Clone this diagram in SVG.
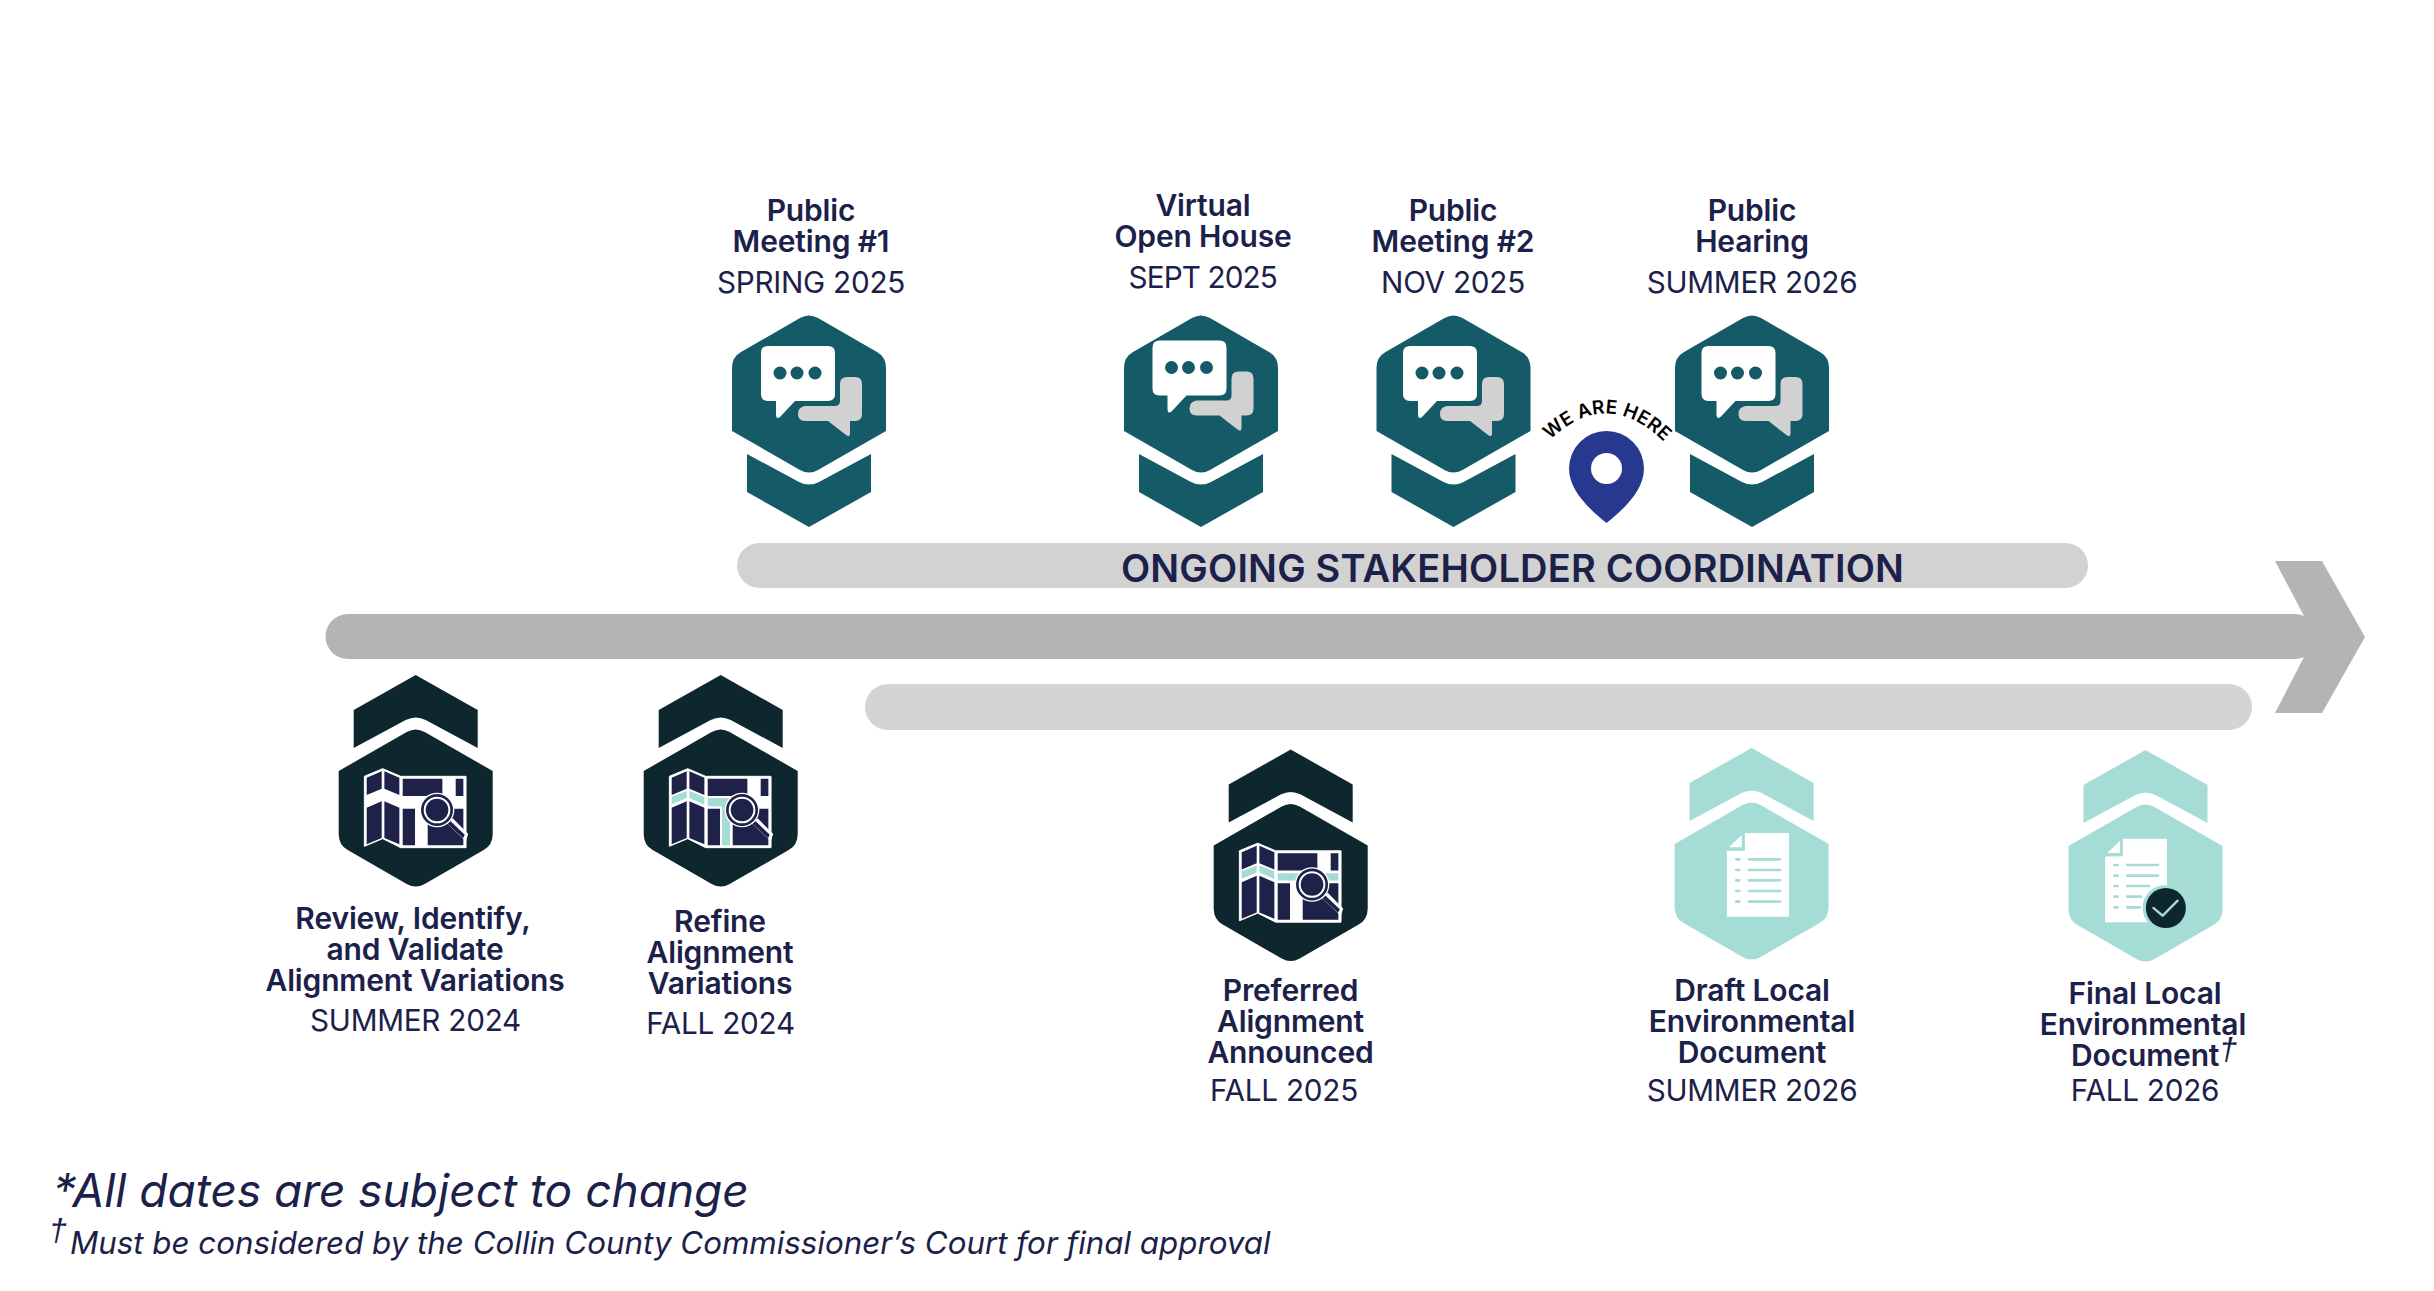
<svg xmlns="http://www.w3.org/2000/svg" width="2434" height="1291" viewBox="0 0 2434 1291">
<style>
text{font-family:Inter,"Noto Sans","Liberation Sans",sans-serif;fill:#1c2149;text-anchor:middle}
.b{font-size:30px;font-weight:600;letter-spacing:-.15px}
.r{font-size:29.700px;font-weight:400;letter-spacing:-.25px}
.f1{font-size:46px;font-style:italic;text-anchor:start}
.f2{font-size:31.300px;font-style:italic;text-anchor:start}
.dg{font-family:"Liberation Sans",Arial,sans-serif;font-size:32px;font-style:italic;font-weight:400}
.t{fill:#155a67}.d{fill:#0e272f}.l{fill:#a5dcd5}
.n{fill:#1e2248}.w{fill:#fff}.g{fill:#d1d1d1}
</style>
<defs>
<g id="badge">
<path d="M-9,3Q0,-2 9,3L68,37Q77,42 77,53V116L9,155Q0,160 -9,155L-77,116V53Q-77,42 -68,37Z"/>
<path d="M-62,139L-10,167Q0,172 10,167L62,139V177L0,212L-62,177Z"/>
</g>
<g id="talk">
<path class="w" d="M-41,31H19Q26,31 26,38V79Q26,86 19,86H-14L-29,102Q-33,105 -33,99V86H-41Q-48,86 -48,79V38Q-48,31 -41,31Z"/>
<circle class="t" cx="-29" cy="58" r="6.500"/><circle class="t" cx="-12" cy="58" r="6.500"/><circle class="t" cx="6" cy="58" r="6.500"/>
<path class="g" d="M38,62H46Q53,62 53,69V99Q53,106 46,106H41V118Q41,123 37,120L19,106H-4Q-11,106 -11,99Q-11,92 -4,91H26Q31,91 31,86V69Q31,62 38,62Z"/>
</g>
<g id="mapbase">
<path class="w" stroke="#fff" stroke-width="3" stroke-linejoin="round" d="M163,348L218,325L272,348H468V562H272L218,535L163,558Z"/>
<path class="n" d="M170,352L215,333V385L170,404ZM223,333L268,352V404L223,385ZM278,355H397V407H278ZM437,355H460V407H437ZM170,442L215,423V533L170,552ZM223,423L268,442V552L223,533ZM278,445H315V555H278ZM353,445H460V555H353Z"/>
</g>
<g id="lens">
<path class="w" d="M408,483L466,537L471,522L428,478Z" stroke="#fff" stroke-width="6"/>
<path class="n" d="M412,490L459,534L464,523L421,482Z"/>
<circle class="w" cx="381" cy="449" r="52"/>
<circle class="n" cx="381" cy="449" r="48"/>
<circle class="n" cx="381" cy="449" r="37" stroke="#fff" stroke-width="6"/>
</g>
</defs>
<g id="connectors">
<path fill="#b4b4b4" d="M348,614H2295Q2300,614 2304,616L2275,561H2322L2365,637L2322,713H2275L2304,657Q2300,659 2295,659H348A22.500,22.500 0 0 1 348,614Z"/>
<rect x="737" y="543" width="1351" height="45" rx="22.500" fill="#d2d2d2"/>
<rect x="865" y="684" width="1387" height="46" rx="23" fill="#d4d4d4"/>
<text x="1512.500" y="582" style="font-size:38px;font-weight:600;letter-spacing:.2px">ONGOING STAKEHOLDER COORDINATION</text>
</g>
<g id="public-meeting-1">
<use href="#badge" class="t" transform="translate(809,315)"/><use href="#talk" transform="translate(809,315)"/>
<text class="b"><tspan x="811" y="221">Public</tspan><tspan x="811" y="252">Meeting #1</tspan></text>
<text class="r" x="811" y="292.500">SPRING 2025</text>
</g>
<g id="virtual-open-house">
<use href="#badge" class="t" transform="translate(1201,315)"/><use href="#talk" transform="translate(1200.500,309.500)"/>
<text class="b"><tspan x="1203" y="216">Virtual</tspan><tspan x="1203" y="247">Open House</tspan></text>
<text class="r" x="1203" y="287.500" textLength="149" lengthAdjust="spacing">SEPT 2025</text>
</g>
<g id="public-meeting-2">
<use href="#badge" class="t" transform="translate(1453.500,315)"/><use href="#talk" transform="translate(1451,315)"/>
<text class="b"><tspan x="1453" y="221">Public</tspan><tspan x="1453" y="252">Meeting #2</tspan></text>
<text class="r" x="1453" y="292.500">NOV 2025</text>
</g>
<g id="public-hearing">
<use href="#badge" class="t" transform="translate(1752,315)"/><use href="#talk" transform="translate(1749.500,315)"/>
<text class="b"><tspan x="1752" y="221">Public</tspan><tspan x="1752" y="252">Hearing</tspan></text>
<text class="r" x="1752" y="292.500">SUMMER 2026</text>
</g>
<g id="we-are-here">
<path id="arc" d="M1547,443Q1607,383 1667,445" fill="none"/>
<text style="font-size:19px;font-weight:600;fill:#000;letter-spacing:.2px"><textPath href="#arc" startOffset="50%">WE ARE HERE</textPath></text>
<path fill="#27388f" d="M1569,468.500A37.500,37.500 0 0 1 1644,468.500C1644,490 1625,508 1606.500,523C1588,508 1569,490 1569,468.500Z"/>
<circle class="w" cx="1606.500" cy="468.500" r="15.500"/>
</g>
<g id="review-identify">
<use href="#badge" class="d" transform="translate(415.700,887) scale(1,-1)"/>
<g transform="translate(415.700,887) scale(.33333) translate(-317,-680)"><use href="#mapbase"/><use href="#lens"/></g>
<text class="b"><tspan x="413" y="928.500">Review, Identify,</tspan><tspan x="415" y="959.500">and Validate</tspan><tspan x="415" y="990.500">Alignment Variations</tspan></text>
<text class="r" x="415.500" y="1030.500">SUMMER 2024</text>
</g>
<g id="refine-alignment">
<use href="#badge" class="d" transform="translate(720.700,887) scale(1,-1)"/>
<g transform="translate(720.700,887) scale(.33333) translate(-317,-680)"><use href="#mapbase"/>
<path class="l" d="M170,409L215,392V413L170,432ZM223,392L268,410V433L223,413ZM278,413H345V555H321V438H278Z"/><use href="#lens"/></g>
<text class="b"><tspan x="720" y="931.500">Refine</tspan><tspan x="720" y="962.500">Alignment</tspan><tspan x="720" y="993.500">Variations</tspan></text>
<text class="r" x="720.500" y="1033.500">FALL 2024</text>
</g>
<g id="preferred-alignment">
<use href="#badge" class="d" transform="translate(1290.700,961.500) scale(1,-1)"/>
<g transform="translate(1290.700,961.500) scale(.33333) translate(-317,-680)"><use href="#mapbase"/>
<path class="l" d="M170,409L215,392V413L170,432ZM223,392L268,410V433L223,413ZM278,415H460V437H278Z"/><use href="#lens"/></g>
<text class="b"><tspan x="1290.500" y="1001">Preferred</tspan><tspan x="1290.500" y="1032">Alignment</tspan><tspan x="1290.500" y="1063">Announced</tspan></text>
<text class="r" x="1284" y="1101">FALL 2025</text>
</g>
<g id="draft-document">
<use href="#badge" class="l" transform="translate(1751.600,960) scale(1,-1)"/>
<g transform="translate(1751.600,960) scale(.36364,.33333) translate(-252,-660)">
<path class="w" d="M233,279H355V530H184V332H233Z"/><path class="l" d="M227,279H233V326Q233,332 227,332H184V326Z"/><path class="w" d="M225,285V322H190Z"/>
<path fill="none" stroke="#a5dcd5" stroke-width="8" stroke-linecap="round" d="M210,358H218M245,358H330M210,390H218M245,390H330M210,421H218M245,421H330M210,453H218M245,453H330M210,485H218M245,485H330"/>
</g>
<text class="b"><tspan x="1752" y="1001">Draft Local</tspan><tspan x="1752" y="1032">Environmental</tspan><tspan x="1752" y="1063">Document</tspan></text>
<text class="r" x="1752" y="1101">SUMMER 2026</text>
</g>
<g id="final-document">
<use href="#badge" class="l" transform="translate(2145.500,962) scale(1,-1)"/>
<g transform="translate(2145.500,962) scale(.36364,.33333) translate(-1335,-665)">
<path class="w" d="M1272,295H1394V546H1224V348H1272Z"/><path class="l" d="M1266,295H1272V342Q1272,348 1266,348H1224V342Z"/><path class="w" d="M1265,301V338H1230Z"/>
<path fill="none" stroke="#a5dcd5" stroke-width="8" stroke-linecap="round" d="M1250,374H1258M1285,374H1369M1250,406H1258M1285,406H1369M1250,437H1258M1285,437H1344M1250,469H1258M1285,469H1322M1250,501H1258M1285,501H1319"/>
<ellipse class="l" cx="1387" cy="502" rx="60" ry="67"/>
<ellipse class="d" cx="1391" cy="503" rx="55" ry="60"/>
<path d="M1357,503L1382,526L1423,481" fill="none" stroke="#a5dcd5" stroke-width="7" stroke-linecap="round" stroke-linejoin="round"/>
</g>
<text class="b"><tspan x="2145" y="1004">Final Local</tspan><tspan x="2143" y="1035">Environmental</tspan><tspan x="2154" y="1066">Document<tspan class="dg" dy="-6">†</tspan></tspan></text>
<text class="r" x="2145" y="1100.500">FALL 2026</text>
</g>
<g id="footnotes">
<text class="f1" x="53" y="1207">*All dates are subject to change</text>
<text class="dg" style="text-anchor:start" x="49" y="1241">†</text>
<text class="f2" x="70" y="1254">Must be considered by the Collin County Commissioner’s Court for final approval</text>
</g>
</svg>
